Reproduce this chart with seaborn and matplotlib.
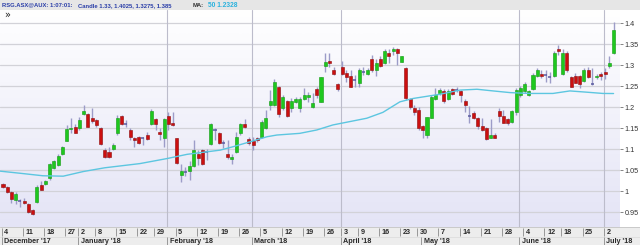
import numpy as np
import matplotlib
matplotlib.use("Agg")
import matplotlib.pyplot as plt
import seaborn as sns
from matplotlib.colors import LinearSegmentedColormap

# ---------------- data ----------------
opens = [1.017, 1.011, 0.998, 0.979, 0.977, 0.977, 0.970, 0.956, 0.974, 1.015,
         1.017, 1.031, 1.056, 1.063, 1.089, 1.120, 1.149, 1.154, 1.150, 1.185,
         1.183, 1.175, 1.170, 1.150, 1.098, 1.094, 1.100, 1.140, 1.179, 1.160,
         1.146, 1.126, 1.130, 1.126, 1.134, 1.160, 1.171, 1.142, 1.126, 1.179,
         1.162, 1.127, 1.039, 1.046, 1.048, 1.060, 1.090, 1.098, 1.093, 1.113,
         1.146, 1.140, 1.114, 1.090, 1.076, 1.094, 1.140, 1.160, 1.124, 1.120,
         1.126, 1.130, 1.150, 1.206, 1.206, 1.249, 1.198, 1.215, 1.199, 1.213,
         1.199, 1.219, 1.225, 1.200, 1.244, 1.213, 1.299, 1.311, 1.290, 1.256,
         1.295, 1.281, 1.275, 1.265, 1.259, 1.285, 1.279, 1.314, 1.289, 1.314,
         1.305, 1.330, 1.334, 1.339, 1.309, 1.293, 1.219, 1.198, 1.194, 1.155,
         1.134, 1.175, 1.220, 1.235, 1.240, 1.220, 1.244, 1.241, 1.239, 1.216,
         1.179, 1.186, 1.174, 1.155, 1.150, 1.128, 1.134, 1.191, 1.179, 1.171,
         1.164, 1.188, 1.229, 1.239, 1.229, 1.244, 1.275, 1.279, 1.277, 1.273,
         1.275, 1.340, 1.279, 1.330, 1.271, 1.275, 1.275, 1.263, 1.290, 1.255,
         1.271, 1.279, 1.285, 1.298, 1.330]
highs = [1.019, 1.012, 1.000, 0.998, 0.982, 0.985, 0.972, 0.958, 1.014, 1.025,
         1.028, 1.067, 1.075, 1.090, 1.108, 1.157, 1.175, 1.161, 1.177, 1.205,
         1.186, 1.199, 1.173, 1.153, 1.103, 1.106, 1.114, 1.182, 1.182, 1.170,
         1.150, 1.130, 1.131, 1.130, 1.142, 1.195, 1.174, 1.150, 1.174, 1.190,
         1.190, 1.128, 1.064, 1.059, 1.071, 1.121, 1.098, 1.100, 1.100, 1.162,
         1.150, 1.142, 1.122, 1.122, 1.090, 1.142, 1.162, 1.171, 1.130, 1.130,
         1.130, 1.170, 1.194, 1.241, 1.267, 1.251, 1.229, 1.218, 1.221, 1.225,
         1.225, 1.245, 1.237, 1.233, 1.249, 1.273, 1.330, 1.330, 1.297, 1.259,
         1.311, 1.289, 1.290, 1.277, 1.293, 1.297, 1.293, 1.325, 1.314, 1.321,
         1.338, 1.338, 1.344, 1.342, 1.323, 1.297, 1.223, 1.206, 1.200, 1.158,
         1.178, 1.229, 1.245, 1.245, 1.243, 1.243, 1.245, 1.249, 1.241, 1.219,
         1.202, 1.191, 1.178, 1.174, 1.154, 1.171, 1.140, 1.198, 1.194, 1.174,
         1.194, 1.245, 1.251, 1.261, 1.242, 1.281, 1.293, 1.290, 1.290, 1.285,
         1.333, 1.348, 1.340, 1.333, 1.275, 1.281, 1.277, 1.293, 1.297, 1.294,
         1.279, 1.283, 1.293, 1.321, 1.4025]
lows = [1.008, 0.997, 0.972, 0.970, 0.962, 0.969, 0.948, 0.944, 0.973, 1.002,
        1.015, 1.028, 1.053, 1.061, 1.087, 1.119, 1.140, 1.139, 1.147, 1.182,
        1.152, 1.163, 1.152, 1.110, 1.080, 1.079, 1.098, 1.134, 1.158, 1.152,
        1.122, 1.106, 1.113, 1.110, 1.122, 1.158, 1.146, 1.122, 1.106, 1.146,
        1.156, 1.066, 1.021, 1.036, 1.027, 1.057, 1.062, 1.063, 1.075, 1.110,
        1.122, 1.112, 1.102, 1.078, 1.065, 1.092, 1.134, 1.150, 1.110, 1.098,
        1.118, 1.126, 1.148, 1.194, 1.204, 1.178, 1.194, 1.178, 1.190, 1.210,
        1.190, 1.217, 1.213, 1.198, 1.221, 1.212, 1.283, 1.297, 1.277, 1.240,
        1.277, 1.261, 1.248, 1.249, 1.249, 1.277, 1.277, 1.285, 1.275, 1.297,
        1.303, 1.306, 1.325, 1.301, 1.307, 1.217, 1.196, 1.182, 1.146, 1.128,
        1.128, 1.174, 1.217, 1.229, 1.211, 1.217, 1.229, 1.236, 1.213, 1.190,
        1.163, 1.171, 1.148, 1.144, 1.121, 1.126, 1.126, 1.166, 1.162, 1.158,
        1.163, 1.182, 1.225, 1.233, 1.228, 1.241, 1.273, 1.269, 1.261, 1.257,
        1.271, 1.325, 1.278, 1.285, 1.248, 1.257, 1.247, 1.261, 1.269, 1.252,
        1.267, 1.265, 1.267, 1.294, 1.3275]
closes = [1.010, 0.999, 0.981, 0.994, 0.976, 0.972, 0.950, 0.947, 1.011, 1.004,
          1.025, 1.065, 1.073, 1.085, 1.106, 1.148, 1.151, 1.140, 1.170, 1.192,
          1.154, 1.167, 1.158, 1.112, 1.082, 1.081, 1.110, 1.175, 1.160, 1.159,
          1.130, 1.121, 1.114, 1.126, 1.125, 1.191, 1.160, 1.136, 1.171, 1.160,
          1.158, 1.067, 1.048, 1.047, 1.060, 1.098, 1.079, 1.065, 1.093, 1.160,
          1.146, 1.114, 1.114, 1.082, 1.081, 1.130, 1.160, 1.154, 1.114, 1.110,
          1.122, 1.166, 1.174, 1.215, 1.261, 1.184, 1.224, 1.179, 1.215, 1.219,
          1.219, 1.229, 1.229, 1.211, 1.229, 1.271, 1.307, 1.305, 1.279, 1.243,
          1.279, 1.273, 1.249, 1.266, 1.290, 1.285, 1.290, 1.290, 1.306, 1.298,
          1.334, 1.321, 1.340, 1.329, 1.321, 1.221, 1.200, 1.190, 1.150, 1.146,
          1.176, 1.225, 1.229, 1.241, 1.216, 1.240, 1.231, 1.241, 1.229, 1.205,
          1.179, 1.174, 1.155, 1.146, 1.124, 1.134, 1.128, 1.179, 1.163, 1.163,
          1.191, 1.241, 1.245, 1.255, 1.239, 1.277, 1.290, 1.275, 1.277, 1.273,
          1.330, 1.335, 1.330, 1.290, 1.249, 1.259, 1.255, 1.290, 1.271, 1.255,
          1.275, 1.275, 1.280, 1.305, 1.385]

# 50-period moving average at sample candle positions
ma_idx = [-0.7, 4, 9.4, 14.2, 18.9, 24, 32.3, 38.7, 43.4, 46.5, 51.2, 54.2,
          58.3, 62.3, 64.6, 70, 74, 77.8, 81.8, 85.8, 89.6, 93.6, 96.7, 103,
          107.8, 111.8, 115.6, 119.6, 124.3, 129.7, 133.7, 137.7, 141.5, 144]
ma_vals = [1.048, 1.043, 1.037, 1.036, 1.047, 1.056, 1.066, 1.078, 1.088, 1.092,
           1.098, 1.106, 1.118, 1.130, 1.134, 1.138, 1.146, 1.158, 1.166, 1.174,
           1.188, 1.213, 1.221, 1.231, 1.241, 1.243, 1.239, 1.235, 1.233, 1.233,
           1.239, 1.236, 1.233, 1.2328]

day_tick_idx = [0, 5, 10, 15, 18, 22, 27, 32, 36, 41, 46, 51, 56, 61, 66, 71,
                76, 80, 84, 89, 94, 98, 103, 108, 113, 118, 123, 128, 132, 137, 142]
day_tick_labels = ["4", "11", "18", "27", "2", "8", "15", "22", "29", "5", "12",
                   "19", "26", "5", "12", "19", "26", "3", "9", "16", "23", "30",
                   "7", "14", "21", "28", "4", "12", "18", "25", "2"]
month_idx = [0, 18, 39, 59, 80, 99, 122, 142]
month_labels = ["December '17", "January '18", "February '18", "March '18",
                "April '18", "May '18", "June '18", "July '18"]
month_line_idx = [39, 59, 80, 122, 142]
ytick_vals = [0.95, 1.0, 1.05, 1.1, 1.15, 1.2, 1.25, 1.3, 1.35, 1.4]
ytick_labels = ["0.95", "1", "1.05", "1.1", "1.15", "1.2", "1.25", "1.3", "1.35", "1.4"]

header_main = "RSG.ASX@AUX: 1:07:01:"
header_candle = "Candle 1.33, 1.4025, 1.3275, 1.385"
header_ma = "MA:"
header_ma_val = "50 1.2328"

# ---------------- styling ----------------
sns.set_style("white")
plt.rcParams['font.family'] = ['Liberation Sans', 'DejaVu Sans']

W, H = 640, 245
GREEN = "#1ec81e"
GREEN_EDGE = "#119a11"
RED = "#cc0f0f"
RED_EDGE = "#8e0a0a"
WICK = "#9c9cc8"
DOJI = "#5a5aa0"
MA_COLOR = "#5cc6e0"

fig = plt.figure(figsize=(W / 100, H / 100), dpi=100)
fig.patch.set_facecolor("white")

# main price panel (pixels x 0..620, y 10..227)
ax = fig.add_axes([0, 1 - 227 / H, 620 / W, 217 / H])
grad = np.linspace(0, 1, 256).reshape(-1, 1)
cmap = LinearSegmentedColormap.from_list("bg", ["#ffffff", "#e4e4f6"])
ax.imshow(grad, aspect="auto", cmap=cmap, extent=(0, 1, 0, 1),
          transform=ax.transAxes, zorder=0, interpolation="bilinear")

XMIN, XMAX = -0.708, 145.52
YMIN, YMAX = 0.915, 1.4317
for v in ytick_vals:
    ax.axhline(v, color="#d2d2d8", lw=0.9, zorder=1)
for m in month_line_idx:
    ax.axvline(m - 0.3, color="#bcbccb", lw=0.8, zorder=1)

o = np.array(opens); h = np.array(highs); l = np.array(lows); c = np.array(closes)
x = np.arange(len(o))
ax.vlines(x, l, h, color=WICK, lw=1.0, zorder=3)
body_lo = np.minimum(o, c)
body_h = np.abs(c - o)
doji = body_h < 0.0015
up = (c > o) & ~doji
down = (c < o) & ~doji
bw = 0.72
ax.bar(x[up], body_h[up], bottom=body_lo[up], width=bw, color=GREEN,
       edgecolor=GREEN_EDGE, linewidth=0.4, zorder=4)
ax.bar(x[down], body_h[down], bottom=body_lo[down], width=bw, color=RED,
       edgecolor=RED_EDGE, linewidth=0.4, zorder=4)
ax.hlines(o[doji], x[doji] - bw / 2, x[doji] + bw / 2, color=DOJI, lw=1.1, zorder=4)

sns.lineplot(x=ma_idx, y=ma_vals, ax=ax, color=MA_COLOR, lw=1.0, zorder=5,
             estimator=None, sort=False)

ax.set_xlim(XMIN, XMAX)
ax.set_ylim(YMIN, YMAX)
ax.set_xticks([])
ax.yaxis.tick_right()
ax.set_yticks(ytick_vals)
ax.set_yticklabels(ytick_labels)
ax.tick_params(axis="y", length=2, width=0.6, color="#707070", pad=1.5,
               labelsize=5.2, labelcolor="#333333", right=True, left=False)
ax.set_xlabel(""); ax.set_ylabel("")
for s in ax.spines.values():
    s.set_visible(False)
ax.text(0.006, 1 - 5 / 217, "\u00bb", transform=ax.transAxes, fontsize=7,
        ha="left", va="center", color="#222222", family=["DejaVu Sans"])

# header strip
hdr = fig.add_axes([0, 1 - 10 / H, 1, 10 / H])
hdr.set_xlim(0, W); hdr.set_ylim(10, 0)
hdr.set_facecolor("#e6e6e6")
hdr.set_xticks([]); hdr.set_yticks([])
for s in hdr.spines.values():
    s.set_visible(False)
hdr.axhline(9.6, color="#c8c8c8", lw=0.6)

renderer = fig.canvas.get_renderer()


def fit_text(axh, xp, txt, target_w, color, weight="bold"):
    t = axh.text(xp, 5.2, txt, ha="left", va="center", color=color,
                 fontsize=6, fontweight=weight)
    w = t.get_window_extent(renderer).width
    t.set_fontsize(6 * target_w / w)
    return t


fit_text(hdr, 2, header_main, 71, "#2a3ea8")
fit_text(hdr, 77.7, header_candle, 94, "#2a3ea8")
fit_text(hdr, 193, header_ma, 11, "#333333")
fit_text(hdr, 208, header_ma_val, 30, "#2ab2de")

# date band
bx = fig.add_axes([0, 0, 1, 18 / H])
px_per_idx = 620 / (XMAX - XMIN)
bx.set_xlim(XMIN, XMIN + W / px_per_idx)
bx.set_ylim(18, 0)
bx.set_facecolor("#ededed")
bx.set_xticks([]); bx.set_yticks([])
for s in bx.spines.values():
    s.set_visible(False)
bx.axhline(0.3, color="#c4c4c4", lw=0.6)
bx.axhline(9.6, color="#dadada", lw=0.5)
for i, lab in zip(day_tick_idx, day_tick_labels):
    bx.vlines(i - 0.3, 1.2, 9.2, color="#8a8a8a", lw=0.6)
    bx.text(i + 0.3, 5.3, lab, ha="left", va="center", fontsize=5.2,
            color="#2a2a2a", fontweight="bold")
for i, lab in zip(month_idx, month_labels):
    bx.vlines(i - 0.35, 10.0, 18, color="#8a8a8a", lw=0.6)
    bx.text(i + 0.3, 14.2, lab, ha="left", va="center", fontsize=5.2,
            color="#2a2a2a", fontweight="bold")

fig.savefig("out.png", dpi=100, facecolor=fig.get_facecolor())
